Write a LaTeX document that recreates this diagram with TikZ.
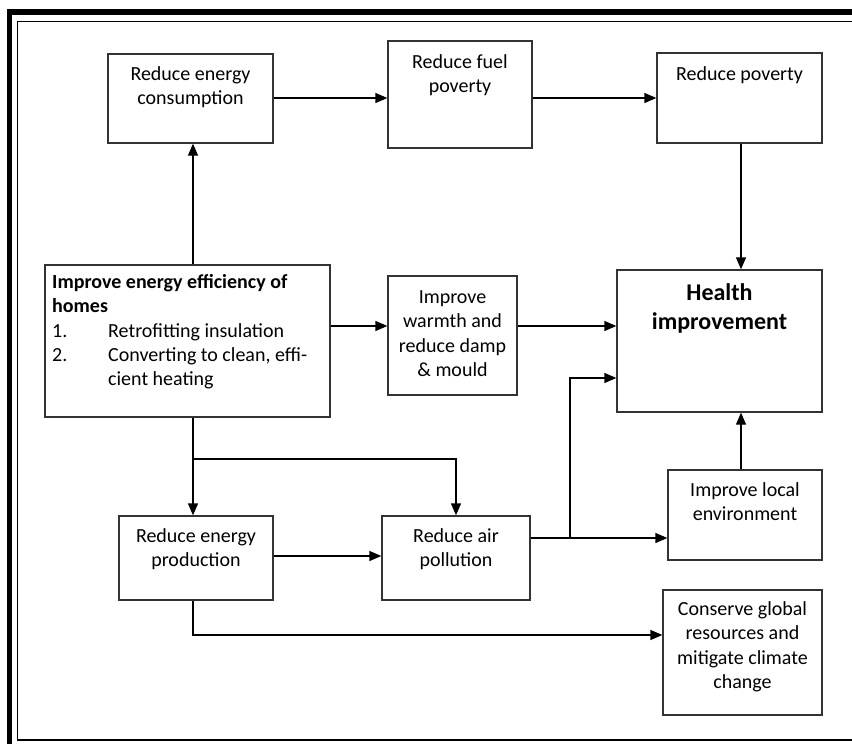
\documentclass[tikz,border=0pt]{standalone}
\usepackage{fontspec}
\setmainfont{Carlito}
\usetikzlibrary{arrows.meta,calc}
\tikzset{
  box/.style={draw=black!80, line width=1.3pt, inner sep=0pt, rectangle},
  lbl/.style={inner sep=0pt, anchor=north, align=center, font=\fontsize{20}{24.4}\selectfont},
  hlbl/.style={inner sep=0pt, anchor=north, align=center, font=\fontsize{24}{29.3}\selectfont\bfseries},
  arr/.style={line width=1.3pt, -{Triangle[length=12pt,width=10pt]}},
  ln/.style={line width=1.3pt}
}
\begin{document}
\begin{tikzpicture}[x=1pt,y=-1pt]
\useasboundingbox (0,0) rectangle (852,744);
\begin{scope}
  \clip (0,0) rectangle (852,744);
  \draw[line width=5.3pt] (9.5,800) -- (9.5,12) -- (900,12);
  \draw[line width=1.5pt] (900,21.5) -- (17.5,21.5) -- (17.5,740) -- (900,740);
\end{scope}
% boxes
\node[box, minimum width=165pt, minimum height=89pt]  (A) at (190.5,98.5) {};
\node[box, minimum width=144pt, minimum height=107pt] (B) at (460,94.5) {};
\node[box, minimum width=165pt, minimum height=90pt]  (C) at (739.5,98) {};
\node[box, minimum width=285pt, minimum height=152pt] (D) at (187.5,341) {};
\node[box, minimum width=129pt, minimum height=119pt] (E) at (452.5,335.5) {};
\node[box, minimum width=205pt, minimum height=142pt] (H) at (719.5,341) {};
\node[box, minimum width=154pt, minimum height=84pt]  (F) at (196,558) {};
\node[box, minimum width=148pt, minimum height=84pt]  (G) at (456,558) {};
\node[box, minimum width=154pt, minimum height=90pt]  (L) at (745,515) {};
\node[box, minimum width=159pt, minimum height=125pt] (K) at (742.5,652.5) {};
% labels
\node[lbl] (At) at (190.5,63) {\strut Reduce energy\\consumption};
\node[lbl] (Bt) at (460,51) {\strut Reduce fuel\\poverty};
\node[lbl] (Ct) at (739.5,63) {\strut Reduce poverty};
\node[lbl] (Et) at (452.5,286) {\strut Improve\\warmth and\\reduce damp\\\& mould};
\node[hlbl] (Ht) at (719.5,279.5) {\strut Health\\improvement};
\node[lbl] (Ft) at (196,525) {\strut Reduce energy\\production};
\node[lbl] (Gt) at (456,525) {\strut Reduce air\\pollution};
\node[lbl] (Lt) at (745,479) {\strut Improve local\\environment};
\node[lbl] (Kt) at (742.5,598) {\strut Conserve global\\resources and\\mitigate climate\\change};
\node[lbl, anchor=north west, align=left] (Dt) at (52,271) {\strut\textbf{Improve energy efficiency of}\\\textbf{homes}\\\makebox[56pt][l]{1.}Retrofitting insulation\\\makebox[56pt][l]{2.}Converting to clean, effi-\\\hspace*{56pt}cient heating};
% helper coordinates
\coordinate (x193) at (193,0);
\coordinate (x741) at (741,0);
\coordinate (x570) at (570,0);
\coordinate (y98) at (0,98);
\coordinate (y326) at (0,326);
\coordinate (y459) at (0,459);
\coordinate (y538) at (0,538);
\coordinate (y378) at (0,378);
\coordinate (y556) at (0,556);
\coordinate (y635) at (0,635);
% connectors
\draw[arr] (x193 |- D.north) -- (x193 |- A.south);
\draw[arr] (A.east |- y98) -- (B.west |- y98);
\draw[arr] (B.east |- y98) -- (C.west |- y98);
\draw[arr] (x741 |- C.south) -- (x741 |- H.north);
\draw[arr] (D.east |- y326) -- (E.west |- y326);
\draw[arr] (E.east |- y326) -- (H.west |- y326);
\draw[arr] (x193 |- D.south) -- (x193 |- F.north);
\draw[arr] (x193 |- y459) -| (G.north);
\draw[arr] (F.east |- y556) -- (G.west |- y556);
\draw[arr] (G.east |- y538) -- (L.west |- y538);
\draw[arr] (x570 |- y538) |- (H.west |- y378);
\draw[arr] (x741 |- L.north) -- (x741 |- H.south);
\draw[arr] (x193 |- F.south) |- (K.west |- y635);
\end{tikzpicture}
\end{document}
